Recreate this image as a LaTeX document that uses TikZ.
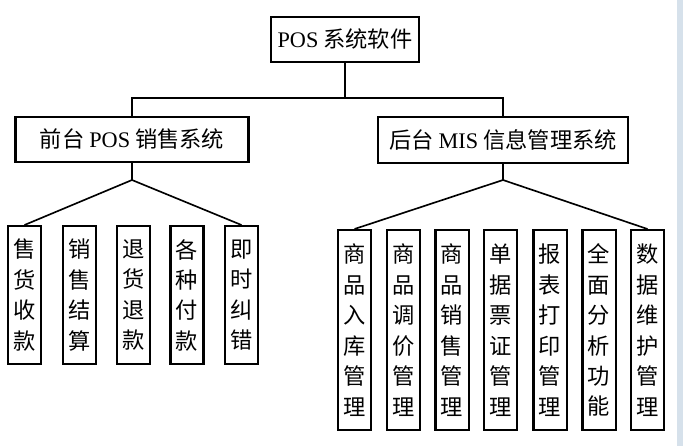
\documentclass[tikz,border=0pt]{standalone}
\usepackage{fontspec}
\setmainfont{Liberation Serif}
\newfontfamily\cjk{Noto Sans CJK SC}
\usetikzlibrary{positioning}
\definecolor{stripblue}{HTML}{D6E1EB}

\begin{document}
\begin{tikzpicture}[x=0.03cm, y=-0.03cm, line width=1.4pt,
  every node/.style={align=center, font=\cjk\fontsize{19}{26}\selectfont},
  box/.style={draw, line width=2pt, inner sep=0pt},
  leaf/.style={box, minimum width=1cm, anchor=north}]
\useasboundingbox (0,0) rectangle (683,446);
\fill[stripblue] (677,0) rectangle (683,446);
% top levels
\node (root) [box, minimum width=4.44cm, minimum height=1.35cm] at (345,39.5) {\textrm{POS} 系统软件};
\node (pos) [box, minimum width=6.99cm, minimum height=1.35cm] at (132,139.5) {前台 \textrm{POS} 销售系统};
\node (mis) [box, minimum width=7.5cm, minimum height=1.38cm] at (503,140) {后台 \textrm{MIS} 信息管理系统};
\coordinate (bar) at (345,98);
\draw (root.south) -- (bar);
\draw (pos.north) |- (bar) -| (mis.north);
% front-end leaves
\node (sk) [leaf, minimum height=4.14cm] at (24.5,225) {售\\货\\收\\款};
\node (js) [leaf, minimum height=4.14cm] at (79.5,225) {销\\售\\结\\算};
\node (th) [leaf, minimum height=4.14cm] at (133.5,225) {退\\货\\退\\款};
\node (fk) [leaf, minimum height=4.14cm] at (187,225) {各\\种\\付\\款};
\node (jc) [leaf, minimum height=4.14cm] at (241.5,225) {即\\时\\纠\\错};
\coordinate (posapex) at (pos.south |- 0,180);
\draw (pos.south) -- (posapex);
\draw (sk.north) -- (posapex) -- (jc.north);
% back-end leaves
\node (rk) [leaf, minimum height=6cm] at (354.5,229) {商\\品\\入\\库\\管\\理};
\node (tj) [leaf, minimum height=6cm] at (403.5,229) {商\\品\\调\\价\\管\\理};
\node (xs) [leaf, minimum height=6cm] at (452,229) {商\\品\\销\\售\\管\\理};
\node (dj) [leaf, minimum height=6cm] at (500.5,229) {单\\据\\票\\证\\管\\理};
\node (bb) [leaf, minimum height=6cm] at (550,229) {报\\表\\打\\印\\管\\理};
\node (fx) [leaf, minimum height=6cm] at (599,229) {全\\面\\分\\析\\功\\能};
\node (wh) [leaf, minimum height=6cm] at (647.5,229) {数\\据\\维\\护\\管\\理};
\coordinate (misapex) at (mis.south |- 0,180);
\draw (mis.south) -- (misapex);
\draw (rk.north) -- (misapex) -- (wh.north);
\end{tikzpicture}
\end{document}
